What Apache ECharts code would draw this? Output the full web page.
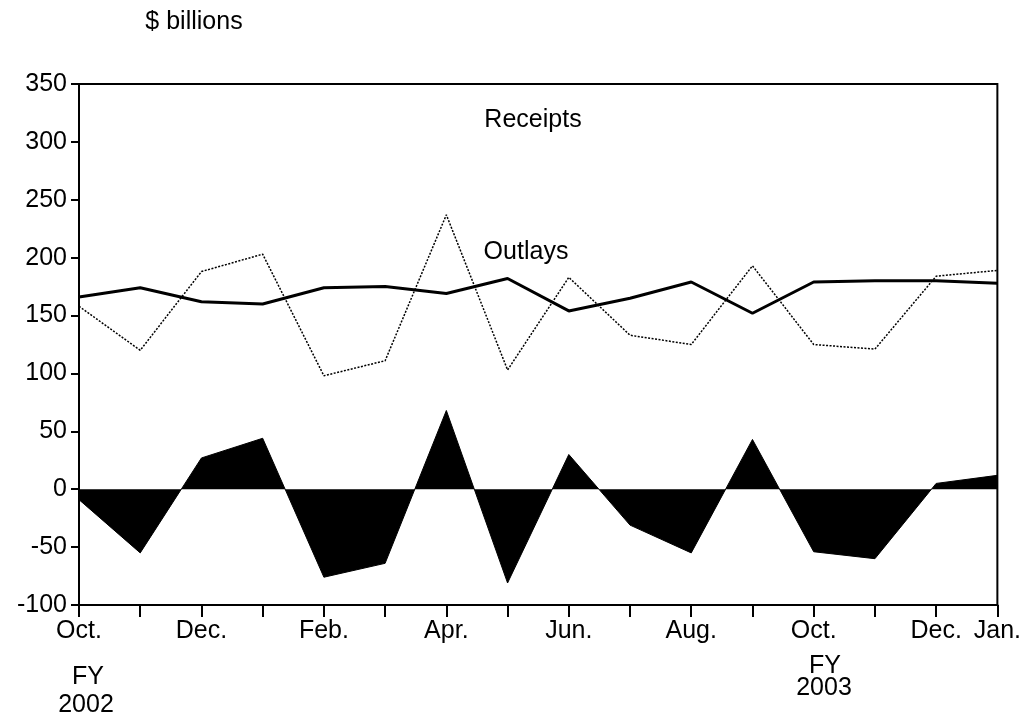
<!DOCTYPE html>
<html>
<head>
<meta charset="utf-8">
<script src="https://cdn.jsdelivr.net/npm/echarts@6/dist/echarts.min.js"></script>
<style>
html,body{margin:0;padding:0;background:#fff;}
#chart{width:1024px;height:718px;}
</style>
</head>
<body>
<div id="chart"></div>
<script>
var months = ['Oct.','Nov.','Dec.','Jan.','Feb.','Mar.','Apr.','May','Jun.','Jul.','Aug.','Sep.','Oct.','Nov.','Dec.','Jan.'];
var outlays = [166, 174, 162, 160, 174, 175, 169, 182, 154, 165, 179, 152, 179, 180, 180, 178];
var receipts = [158, 120, 188, 203, 98, 111, 237, 103, 183, 133, 125, 193, 125, 121, 184, 189];
var deficit = [-9, -55, 27, 44, -76, -64, 68, -81, 30, -31, -55, 43, -54, -60, 5, 12];
var yTicks = [-100, -50, 0, 50, 100, 150, 200, 250, 300, 350];

var FONT = '"Liberation Sans", Arial, sans-serif';
var FS = 25;
var chart = echarts.init(document.getElementById('chart'));
chart.setOption({
  animation: false,
  backgroundColor: '#fff',
  grid: {left: 79, right: 25, top: 84, bottom: 113, show: true, borderColor: '#000', borderWidth: 2, backgroundColor: 'transparent'},
  xAxis: {
    type: 'category', data: months, boundaryGap: false,
    axisLine: {onZero: false, lineStyle: {color: '#000', width: 2}},
    axisTick: {show: true, length: 12, inside: false, interval: 0, lineStyle: {color: '#000', width: 2}},
    axisLabel: {
      interval: function (i) { return i % 2 === 0 || i === months.length - 1; },
      color: '#000', fontSize: FS, fontFamily: FONT, margin: 14
    },
    splitLine: {show: false}
  },
  yAxis: {
    type: 'value', min: yTicks[0], max: yTicks[yTicks.length - 1], interval: 50,
    axisLine: {show: true, lineStyle: {color: '#000', width: 2}},
    axisTick: {show: true, length: 8, lineStyle: {color: '#000', width: 2}},
    axisLabel: {color: '#000', fontSize: FS, fontFamily: FONT, margin: 12},
    splitLine: {show: false}
  },
  series: [
    {
      name: 'Deficit', type: 'line', data: deficit, symbol: 'none',
      lineStyle: {color: '#000', width: 1},
      areaStyle: {color: '#000', opacity: 1, origin: 0},
      z: 1
    },
    {
      name: 'Receipts', type: 'line', data: receipts, symbol: 'none',
      lineStyle: {color: '#000', width: 1.5, type: [2, 1.5]},
      z: 2
    },
    {
      name: 'Outlays', type: 'line', data: outlays, symbol: 'none',
      lineStyle: {color: '#000', width: 3},
      z: 3
    }
  ],
  graphic: [
    {type: 'text', x: 194, y: 22, style: {text: '$ billions', fill: '#000', fontSize: FS, fontFamily: FONT, align: 'center', verticalAlign: 'middle'}},
    {type: 'text', x: 533, y: 120, style: {text: 'Receipts', fill: '#000', fontSize: FS, fontFamily: FONT, align: 'center', verticalAlign: 'middle'}},
    {type: 'text', x: 526, y: 252, style: {text: 'Outlays', fill: '#000', fontSize: FS, fontFamily: FONT, align: 'center', verticalAlign: 'middle'}},
    {type: 'text', x: 88, y: 677, style: {text: 'FY', fill: '#000', fontSize: FS, fontFamily: FONT, align: 'center', verticalAlign: 'middle'}},
    {type: 'text', x: 86, y: 705, style: {text: '2002', fill: '#000', fontSize: FS, fontFamily: FONT, align: 'center', verticalAlign: 'middle'}},
    {type: 'text', x: 825, y: 666, style: {text: 'FY', fill: '#000', fontSize: FS, fontFamily: FONT, align: 'center', verticalAlign: 'middle'}},
    {type: 'text', x: 824, y: 688, style: {text: '2003', fill: '#000', fontSize: FS, fontFamily: FONT, align: 'center', verticalAlign: 'middle'}}
  ]
});
</script>
</body>
</html>
